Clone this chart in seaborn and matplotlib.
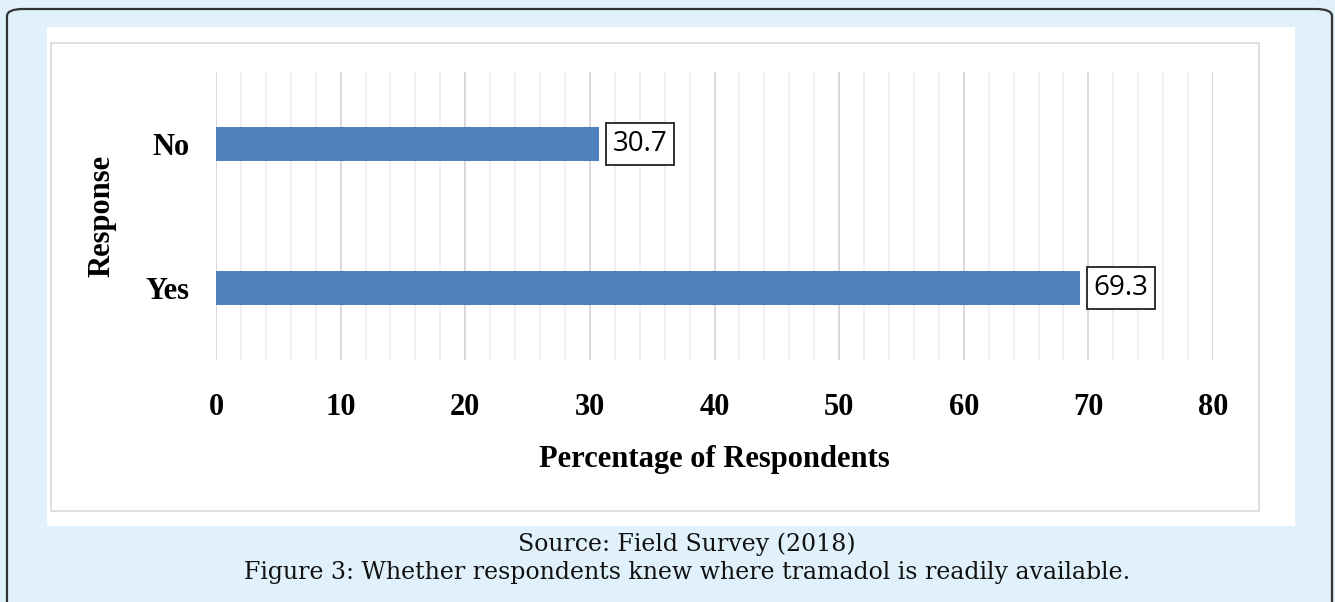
import matplotlib
matplotlib.use("Agg")
import matplotlib.pyplot as plt
from matplotlib.patches import FancyBboxPatch, Rectangle
from matplotlib.ticker import MultipleLocator
import seaborn as sns
import pandas as pd

responses = ["No", "Yes"]
percentages = [30.7, 69.3]
x_ticks = [0, 10, 20, 30, 40, 50, 60, 70, 80]
x_label = "Percentage of Respondents"
y_label = "Response"
source_text = "Source: Field Survey (2018)"
caption_text = "Figure 3: Whether respondents knew where tramadol is readily available."

df = pd.DataFrame({"Response": responses, "Percentage": percentages})

sns.set_theme(style="white")
W, H = 1335, 602
fig = plt.figure(figsize=(W / 100, H / 100), dpi=100)
fig.patch.set_facecolor("#e0f1fb")

def fx(px):
    return px / W

def fy(py):
    return 1 - py / H

# outer dark border (bottom runs off the image)
fig.patches.append(FancyBboxPatch((fx(7), fy(640)), fx(1325), fy(9) - fy(640),
                                  boxstyle="round,pad=0,rounding_size=0.012",
                                  transform=fig.transFigure, facecolor="#e0f1fb",
                                  edgecolor="#333333", linewidth=1.6, zorder=0))
# white panel
fig.patches.append(Rectangle((fx(47), fy(526)), fx(1295) - fx(47), fy(27) - fy(526),
                             transform=fig.transFigure, facecolor="white",
                             edgecolor="none", zorder=1))
# light gray chart border
fig.patches.append(Rectangle((fx(51), fy(511)), fx(1259) - fx(51), fy(43) - fy(511),
                             transform=fig.transFigure, facecolor="none",
                             edgecolor="#d9d9d9", linewidth=1.2, zorder=2))

ax = fig.add_axes([fx(216), fy(360), fx(1213) - fx(216), fy(72) - fy(360)])
ax.set_zorder(5)
ax.set_facecolor("none")

sns.barplot(data=df, y="Response", x="Percentage", order=responses, orient="h",
            color="#4f81bd", saturation=1, width=0.243, linewidth=0, ax=ax, zorder=3)

ax.set_xlim(0, 80)
ax.set_ylim(1.5, -0.5)
ax.xaxis.set_major_locator(MultipleLocator(10))
ax.xaxis.set_minor_locator(MultipleLocator(2))
ax.set_xticks(x_ticks)
ax.set_axisbelow(True)
ax.grid(axis="x", which="major", color="#d6d6d6", linewidth=1.3)
ax.grid(axis="x", which="minor", color="#efefef", linewidth=1.3)
ax.grid(axis="y", visible=False)
for s in ax.spines.values():
    s.set_visible(False)
ax.tick_params(axis="both", which="both", length=0)
ax.tick_params(axis="x", pad=24)
ax.tick_params(axis="y", pad=19)

serif_bold = dict(family="Liberation Serif", weight="bold", size=22, color="black")
for lab in ax.get_xticklabels() + ax.get_yticklabels():
    lab.set_fontfamily("Liberation Serif")
    lab.set_fontweight("bold")
    lab.set_fontsize(22)
    lab.set_color("black")

ax.set_xlabel(x_label, va="center", **serif_bold)
ax.xaxis.set_label_coords(0.4995, (360 - 460) / 288)
ax.set_ylabel(y_label, va="center", **serif_bold)
ax.yaxis.set_label_coords((102 - 216) / 997, 0.5)

for i, v in enumerate(percentages):
    ax.annotate(f"{v}", xy=(v, i), xytext=(14, 0), textcoords="offset pixels",
                ha="left", va="center", fontsize=20, family="Open Sans",
                color="black", zorder=5,
                bbox=dict(boxstyle="square,pad=0.25", facecolor="white",
                          edgecolor="#222222", linewidth=1.3))

fig.text(fx(687), fy(544), source_text, ha="center", va="center",
         family="DejaVu Serif", fontsize=17, color="#111111")
fig.text(fx(687), fy(573), caption_text, ha="center", va="center",
         family="DejaVu Serif", fontsize=17, color="#111111")

fig.savefig("out.png", dpi=100, facecolor=fig.get_facecolor())
